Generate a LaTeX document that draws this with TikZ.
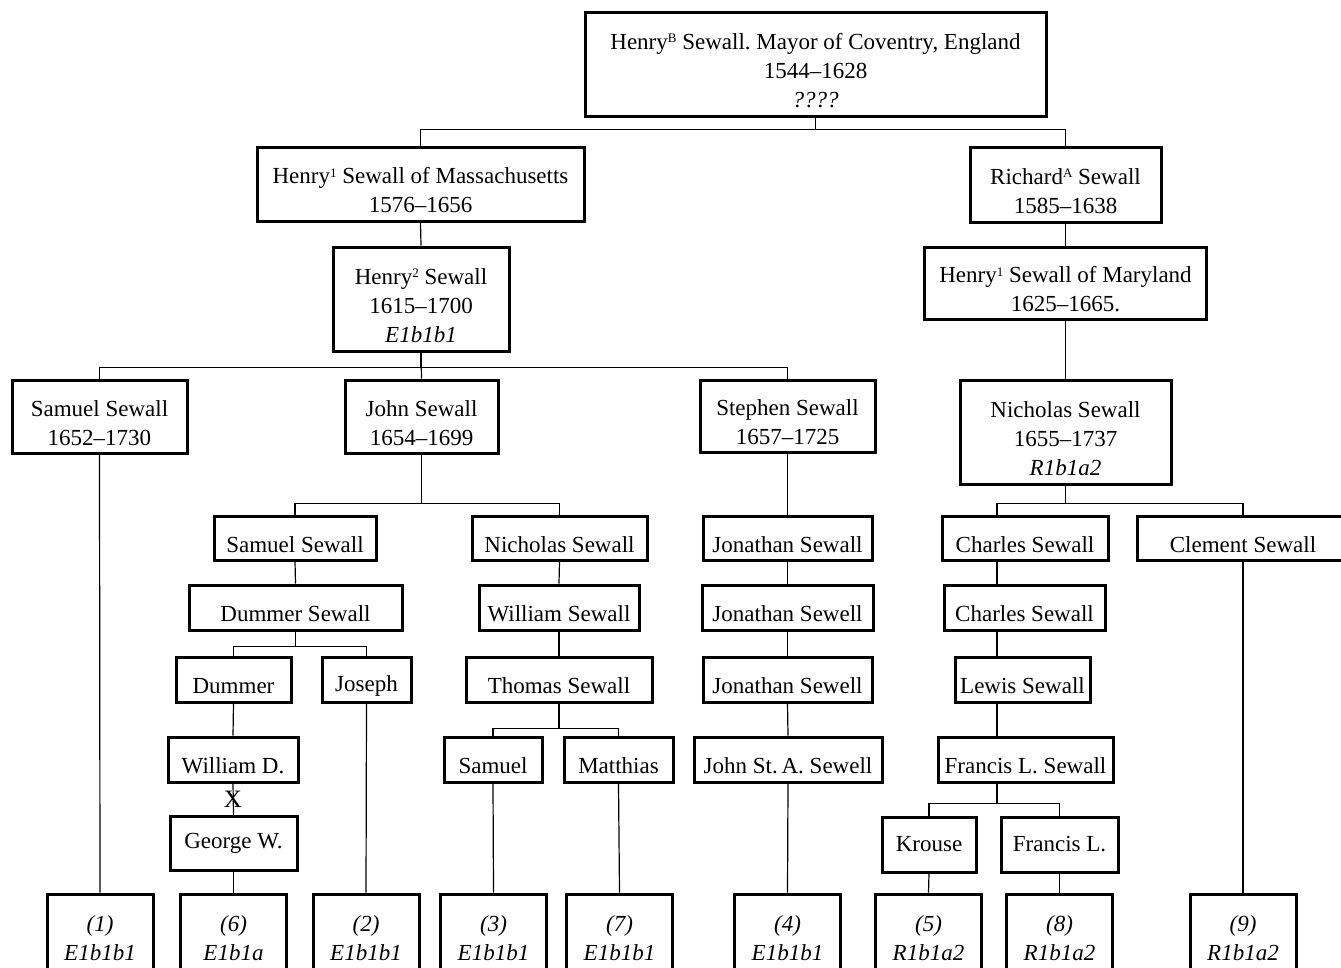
\documentclass[tikz,border=0pt]{standalone}
\usepackage{fontspec}
\setmainfont{Liberation Serif}
\frenchspacing
\newcommand\lift{\rule{0pt}{29pt}}
\newcommand\gen[1]{\raisebox{6.5pt}{\fontsize{13}{13}\selectfont #1}}

\begin{document}
\begin{tikzpicture}[x=1pt, y=-1pt,
  box/.style={draw, line width=3pt, align=center, inner sep=0pt, font=\fontsize{23}{29}\selectfont},
  person/.style={box, execute at begin node={\lift}},
  haplo/.style={box, minimum width=106pt, minimum height=88pt, font=\fontsize{23}{29}\selectfont\itshape},
  link/.style={line width=1.2pt}]
\useasboundingbox (0,0) rectangle (1341,967);

\node[box, minimum width=461pt, minimum height=104pt] (top) at (815.5,64) {\lift Henry\gen{B} Sewall. Mayor of Coventry, England\\1544--1628\\\textit{????}};
\node[box, minimum width=327pt, minimum height=74pt] (henryMA) at (420.5,184) {\lift Henry\gen{1} Sewall of Massachusetts\\1576--1656};
\node[box, minimum width=191pt, minimum height=75pt] (richard) at (1065.5,184.5) {\lift Richard\gen{A} Sewall\\1585--1638};
\node[box, minimum width=176pt, minimum height=104pt] (henry2) at (421,299) {\lift Henry\gen{2} Sewall\\1615--1700\\\textit{E1b1b1}};
\node[box, minimum width=282pt, minimum height=72pt] (henryMD) at (1065.5,283) {\lift Henry\gen{1} Sewall of Maryland\\1625--1665.};

\node[box, minimum width=175pt, minimum height=73pt] (samuelA) at (99.5,416.5) {\lift Samuel Sewall\\1652--1730};
\node[box, minimum width=153pt, minimum height=73pt] (john) at (421.5,416.5) {\lift John Sewall\\1654--1699};
\node[box, minimum width=175pt, minimum height=72pt] (stephen) at (787.5,416) {\lift Stephen Sewall\\1657--1725};
\node[box, minimum width=211pt, minimum height=104pt] (nicholasA) at (1065.5,432) {\lift Nicholas Sewall\\1655--1737\\\textit{R1b1a2}};

\node[person, minimum width=162pt, minimum height=44pt] (samuelB) at (295,538) {Samuel Sewall};
\node[person, minimum width=175pt, minimum height=44pt] (nicholasB) at (559.5,538) {Nicholas Sewall};
\node[person, minimum width=169pt, minimum height=44pt] (jonathanA) at (787.5,538) {Jonathan Sewall};
\node[person, minimum width=166pt, minimum height=44pt] (charlesA) at (1025,538) {Charles Sewall};
\node[person, minimum width=212pt, minimum height=44pt] (clement) at (1243,538) {Clement Sewall};

\node[person, minimum width=213pt, minimum height=45pt] (dummerS) at (295.5,607.5) {Dummer Sewall};
\node[person, minimum width=160pt, minimum height=45pt] (williamS) at (559,607.5) {William Sewall};
\node[person, minimum width=171pt, minimum height=45pt] (jonathanB) at (787.5,607.5) {Jonathan Sewell};
\node[person, minimum width=161pt, minimum height=45pt] (charlesB) at (1024.5,607.5) {Charles Sewall};

\node[person, minimum width=115pt, minimum height=45pt] (dummer) at (233.5,679.5) {Dummer};
\node[person, minimum width=89pt, minimum height=45pt] (joseph) at (366.5,679.5) {Joseph};
\node[person, minimum width=186pt, minimum height=45pt] (thomas) at (559,679.5) {Thomas Sewall};
\node[person, minimum width=169pt, minimum height=45pt] (jonathanC) at (787.5,679.5) {Jonathan Sewell};
\node[person, minimum width=135pt, minimum height=45pt] (lewis) at (1022.5,679.5) {Lewis Sewall};

\node[person, minimum width=130pt, minimum height=45pt] (williamD) at (233,759.5) {William D.};
\node[person, minimum width=98pt, minimum height=45pt] (samuelC) at (493,759.5) {Samuel};
\node[person, minimum width=109pt, minimum height=45pt] (matthias) at (618.5,759.5) {Matthias};
\node[person, minimum width=188pt, minimum height=45pt] (johnStA) at (788,759.5) {John St.\,A. Sewell};
\node[person, minimum width=175pt, minimum height=45pt] (francisLS) at (1025.5,759.5) {Francis L. Sewall};

\node[box, minimum width=127pt, minimum height=54pt] (georgeW) at (233.5,843.5) {George W.};
\node[box, minimum width=94pt, minimum height=55pt] (krouse) at (929,844.5) {Krouse};
\node[box, minimum width=117pt, minimum height=55pt] (francisL) at (1059.5,844.5) {Francis L.};

\node[haplo] (b1) at (100,938) {(1)\\E1b1b1};
\node[haplo] (b6) at (233.5,938) {(6)\\E1b1a};
\node[haplo] (b2) at (366,938) {(2)\\E1b1b1};
\node[haplo] (b3) at (493.5,938) {(3)\\E1b1b1};
\node[haplo] (b7) at (619.5,938) {(7)\\E1b1b1};
\node[haplo] (b4) at (787.5,938) {(4)\\E1b1b1};
\node[haplo] (b5) at (928.5,938) {(5)\\R1b1a2};
\node[haplo] (b8) at (1059.5,938) {(8)\\R1b1a2};
\node[haplo] (b9) at (1243,938) {(9)\\R1b1a2};

\coordinate (colR) at (997,0);

\draw[link] (top.south) -- ++(0,12) coordinate (jtop);
\draw[link] (henryMA.north) |- (jtop) -| (richard.north);
\draw[link] (henryMA.south) -- (henry2.north);
\draw[link] (richard.south) -- (henryMD.north);
\draw[link] (henryMD.south) -- (nicholasA.north);

\draw[link] (henry2.south) -- (john.north);
\draw[link] (henry2.south) -- ++(0,15) coordinate (jh2);
\draw[link] (samuelA.north) |- (jh2) -| (stephen.north);

\draw[link] (john.south) -- ++(0,49) coordinate (jjohn);
\draw[link] (samuelB.north) |- (jjohn) -| (nicholasB.north);
\draw[link] (nicholasA.south) -- ++(0,18) coordinate (jnic);
\draw[link] (charlesA.north -| colR) |- (jnic) -| (clement.north);
\draw[link] (stephen.south) -- (jonathanA.north);

\draw[link] (samuelB.south) -- (dummerS.north);
\draw[link] (dummerS.south) -- ++(0,15) coordinate (jdum);
\draw[link] (dummer.north) |- (jdum) -| (joseph.north);
\draw[link] (dummer.south) -- (williamD.north);
\draw[link] (williamD.south) -- (georgeW.north);
\node[font=\fontsize{25}{25}\selectfont, inner sep=0pt] (cross) at (233,799) {X};
\draw[link] (georgeW.south) -- (b6.north);
\draw[link] (joseph.south) -- (b2.north);
\draw[link] (samuelA.south) -- (b1.north);

\draw[link] (nicholasB.south) -- (williamS.north);
\draw[link] (williamS.south) -- (thomas.north);
\draw[link] (thomas.south) -- ++(0,25) coordinate (jtho);
\draw[link] (samuelC.north) |- (jtho) -| (matthias.north);
\draw[link] (samuelC.south) -- (b3.north);
\draw[link] (matthias.south) -- (b7.north);

\draw[link] (jonathanA.south) -- (jonathanB.north);
\draw[link] (jonathanB.south) -- (jonathanC.north);
\draw[link] (jonathanC.south) -- (johnStA.north);
\draw[link] (johnStA.south) -- (b4.north);

\draw[link] (charlesA.south -| colR) -- (charlesB.north -| colR);
\draw[link] (charlesB.south -| colR) -- (lewis.north -| colR);
\draw[link] (lewis.south -| colR) -- (francisLS.north -| colR);
\draw[link] (francisLS.south -| colR) -- ++(0,20) coordinate (jfra);
\draw[link] (krouse.north) |- (jfra) -| (francisL.north);
\draw[link] (krouse.south) -- (b5.north);
\draw[link] (francisL.south) -- (b8.north);
\draw[link] (clement.south) -- (b9.north);
\end{tikzpicture}
\end{document}
